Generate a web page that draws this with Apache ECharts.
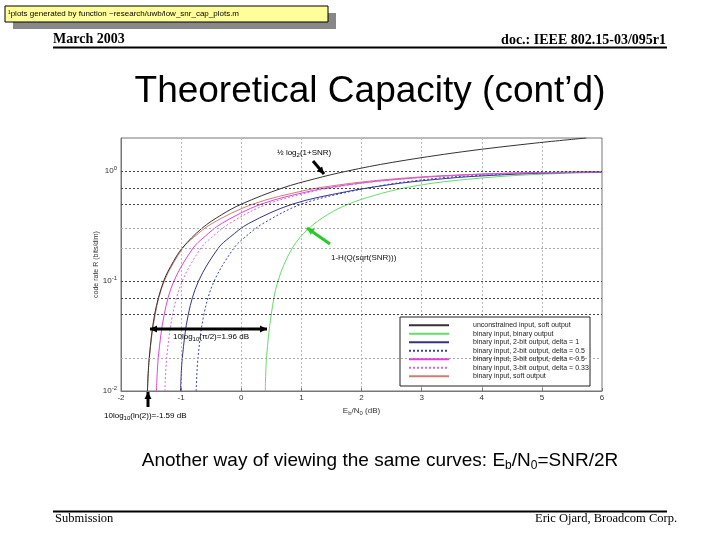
<!DOCTYPE html>
<html>
<head>
<meta charset="utf-8">
<script src="https://cdn.jsdelivr.net/npm/echarts@6/dist/echarts.min.js"></script>
<style>
html, body { margin: 0; padding: 0; background: #fff; }
#chart { width: 720px; height: 540px; }
</style>
</head>
<body>
<div id="chart"></div>
<script>
// Eb/N0 (dB) and code rate R
var unconstrainedEb = [-1.56, -1.53, -1.44, -1.29, -1.13, -0.98, -0.66, -0.33, 0, 0.68, 1.22, 1.76, 2.51, 3.68, 4.9, 5.74];
var unconstrainedR  = [0.01, 0.02, 0.05, 0.1, 0.15, 0.2, 0.3, 0.4, 0.5, 0.7, 0.85, 1, 1.2, 1.5, 1.8, 2];

var binaryHardEb = [0.4, 0.42, 0.5, 0.61, 0.85, 1.12, 1.43, 1.78, 2.21, 2.7, 3.37, 4.4, 5.27, 5.88, 6];
var binaryHardR  = [0.01, 0.02, 0.05, 0.1, 0.2, 0.3, 0.4, 0.5, 0.6, 0.7, 0.8, 0.9, 0.95, 0.97, 0.972];

var twoBitD1Eb = [-1.01, -0.98, -0.88, -0.71, -0.38, -0.19, 0.12, 0.85, 1.75, 2.45, 2.85, 3.6, 3.95, 4.8, 5.5, 6];
var twoBitD1R  = [0.01, 0.02, 0.05, 0.1, 0.2, 0.25, 0.333, 0.5, 0.65, 0.75, 0.8, 0.875, 0.9, 0.95, 0.97, 0.978];

var twoBitD05Eb = [-0.75, -0.72, -0.62, -0.45, -0.12, 0.06, 0.36, 1.0, 1.8, 2.4, 2.75, 3.4, 3.75, 4.6, 5.4, 6];
var twoBitD05R  = [0.01, 0.02, 0.05, 0.1, 0.2, 0.25, 0.333, 0.5, 0.65, 0.75, 0.8, 0.875, 0.9, 0.95, 0.97, 0.978];

var threeBitD05Eb = [-1.41, -1.38, -1.28, -1.12, -0.8, -0.62, -0.33, 0.33, 1.2, 1.76, 2.17, 2.5, 2.98, 3.33, 4.3, 5.1, 6];
var threeBitD05R  = [0.01, 0.02, 0.05, 0.1, 0.2, 0.25, 0.333, 0.5, 0.667, 0.75, 0.8, 0.833, 0.875, 0.9, 0.95, 0.97, 0.983];

var threeBitD033Eb = [-1.27, -1.24, -1.14, -0.98, -0.67, -0.49, -0.2, 0.43, 1.27, 1.82, 2.22, 2.54, 3.0, 3.35, 4.3, 5.1, 6];
var threeBitD033R  = [0.01, 0.02, 0.05, 0.1, 0.2, 0.25, 0.333, 0.5, 0.667, 0.75, 0.8, 0.833, 0.875, 0.9, 0.95, 0.97, 0.983];

var binarySoftEb = [-1.56, -1.53, -1.43, -1.28, -0.97, -0.79, -0.49, 0.19, 1.06, 1.63, 2.04, 2.36, 2.85, 3.2, 4.2, 5.0, 6];
var binarySoftR  = [0.01, 0.02, 0.05, 0.1, 0.2, 0.25, 0.333, 0.5, 0.667, 0.75, 0.8, 0.833, 0.875, 0.9, 0.95, 0.97, 0.985];

var legendNames = [
    'unconstrained input, soft output',
    'binary input, binary output',
    'binary input, 2-bit output, delta = 1',
    'binary input, 2-bit output, delta = 0.5',
    'binary input, 3-bit output, delta = 0.5',
    'binary input, 3-bit output, delta = 0.33',
    'binary input, soft output'
];

// grid lines of the log axis
var darkGridR = [0.05, 0.07, 0.1, 0.5, 0.7, 1];
var lightGridR = [0.02, 0.2, 0.3];

function zip(xs, ys) {
    var out = [];
    for (var i = 0; i < xs.length; i++) out.push([xs[i], ys[i]]);
    return out;
}

function curve(name, xs, ys, color, type, z) {
    return {
        name: name,
        type: 'line',
        data: zip(xs, ys),
        showSymbol: false,
        symbol: 'none',
        smooth: 0.35,
        z: z,
        lineStyle: { color: color, width: 1, type: type },
        itemStyle: { color: color }
    };
}

var font = 'Liberation Sans, Arial, sans-serif';
var serif = 'Liberation Serif, Times New Roman, serif';
var small = { fontSize: 8, fontFamily: font, color: '#111' };
var sub = { fontSize: 6, fontFamily: font, color: '#111', padding: [5, 0, 0, 0] };

function arrow(x1, y1, x2, y2, color, w, both) {
    var els = [{
        type: 'line',
        shape: { x1: x1, y1: y1, x2: x2, y2: y2 },
        style: { stroke: color, lineWidth: w }
    }];
    function head(ax, ay, bx, by) {
        var a = Math.atan2(ay - by, ax - bx), L = 7, H = 3.5;
        var cx = ax - L * Math.cos(a), cy = ay - L * Math.sin(a);
        return {
            type: 'polygon',
            shape: { points: [[ax, ay],
                [cx + H * Math.sin(a), cy - H * Math.cos(a)],
                [cx - H * Math.sin(a), cy + H * Math.cos(a)]] },
            style: { fill: color }
        };
    }
    els.push(head(x2, y2, x1, y1));
    if (both) els.push(head(x1, y1, x2, y2));
    return els;
}

var graphics = [
    // note box at the top
    { type: 'rect', shape: { x: 13, y: 13, width: 323, height: 16 }, style: { fill: '#888' } },
    { type: 'rect', shape: { x: 5, y: 6, width: 323, height: 16 }, style: { fill: '#ffff99', stroke: '#000', lineWidth: 1 } },
    { type: 'text', x: 8, y: 14, style: { text: '¹plots generated by function ~research/uwb/low_snr_cap_plots.m', fontSize: 8, fontFamily: font, fill: '#000', verticalAlign: 'middle' } },
    // header
    { type: 'text', x: 53, y: 39, style: { text: 'March 2003', fontSize: 14, fontWeight: 'bold', fontFamily: serif, fill: '#000', verticalAlign: 'middle' } },
    { type: 'text', x: 666, y: 40, style: { text: 'doc.: IEEE 802.15-03/095r1', fontSize: 14, fontWeight: 'bold', fontFamily: serif, fill: '#000', align: 'right', verticalAlign: 'middle' } },
    { type: 'rect', shape: { x: 53, y: 46.5, width: 614, height: 2 }, style: { fill: '#000' } },
    { type: 'text', x: 370, y: 92, style: { text: 'Theoretical Capacity (cont’d)', fontSize: 37, fontFamily: font, fill: '#000', align: 'center', verticalAlign: 'middle' } },
    // legend box
    { type: 'rect', shape: { x: 400, y: 317, width: 190, height: 69 }, style: { fill: '#fff', stroke: '#222', lineWidth: 1 }, z: 5 },
    // annotations
    { type: 'text', x: 277, y: 153, z: 10, style: { text: '{a|½ log}{s|2}{a|(1+SNR)}', rich: { a: small, s: sub }, verticalAlign: 'middle' } },
    { type: 'text', x: 331, y: 258, z: 10, style: { text: '1-H(Q(sqrt(SNR)))', fontSize: 8, fontFamily: font, fill: '#111', verticalAlign: 'middle' } },
    { type: 'text', x: 173, y: 337, z: 10, style: { text: '{a|10log}{s|10}{a|(π/2)=1.96 dB}', rich: { a: small, s: sub }, verticalAlign: 'middle' } },
    { type: 'text', x: 104, y: 416, z: 10, style: { text: '{a|10log}{s|10}{a|(ln(2))=-1.59 dB}', rich: { a: small, s: sub }, verticalAlign: 'middle' } },
    // bottom text
    { type: 'text', x: 380, y: 461, style: { text: '{a|Another way of viewing the same curves: E}{s|b}{a|/N}{s|0}{a|=SNR/2R}',
        rich: { a: { fontSize: 19, fontFamily: font, color: '#000' }, s: { fontSize: 12, fontFamily: font, color: '#000', padding: [9, 0, 0, 0] } },
        align: 'center', verticalAlign: 'middle' } },
    { type: 'rect', shape: { x: 53, y: 510.5, width: 614, height: 2 }, style: { fill: '#000' } },
    { type: 'text', x: 55, y: 519, style: { text: 'Submission', fontSize: 12.5, fontFamily: serif, fill: '#000', verticalAlign: 'middle' } },
    { type: 'text', x: 677, y: 519, style: { text: 'Eric Ojard, Broadcom Corp.', fontSize: 12.5, fontFamily: serif, fill: '#000', align: 'right', verticalAlign: 'middle' } }
];
graphics = graphics
    .concat(arrow(313, 161, 324, 174, '#000', 3, false))
    .concat(arrow(330, 244, 307, 228, '#22cc22', 3, false))
    .concat(arrow(150, 329, 267, 329, '#000', 3, true))
    .concat(arrow(148, 407, 148, 392, '#000', 3, false));
graphics.forEach(function (g) { if (g.z === undefined) g.z = 10; });

var gridSeries = {
    name: 'grid',
    type: 'line',
    data: [],
    z: 1,
    silent: true,
    markLine: {
        silent: true,
        symbol: ['none', 'none'],
        label: { show: false },
        animation: false,
        data: darkGridR.map(function (v) { return { yAxis: v, lineStyle: { color: '#444', type: [2, 2], width: 1 } }; })
            .concat(lightGridR.map(function (v) { return { yAxis: v, lineStyle: { color: '#aaa', type: [2, 2], width: 1 } }; }))
    }
};

var chart = echarts.init(document.getElementById('chart'), null, { renderer: 'canvas' });
chart.setOption({
    animation: false,
    backgroundColor: '#fff',
    grid: { left: 121, right: 118, top: 138, bottom: 149, show: true, borderColor: '#777', borderWidth: 1, backgroundColor: '#fff' },
    xAxis: {
        type: 'value', min: -2, max: 6, interval: 1,
        name: '{n|E}{s|b}{n|/N}{s|0}{n| (dB)}',
        nameLocation: 'middle', nameGap: 14,
        nameTextStyle: { rich: { n: { fontSize: 8, fontFamily: font, color: '#333' }, s: { fontSize: 6, fontFamily: font, color: '#333', padding: [5, 0, 0, 0] } } },
        axisLine: { show: true, onZero: false, lineStyle: { color: '#777' } },
        axisTick: { show: true, inside: true, length: 3, lineStyle: { color: '#777' } },
        axisLabel: { fontSize: 8, fontFamily: font, color: '#333', margin: 3 },
        splitLine: { show: true, lineStyle: { color: '#bbb', type: [2, 2] } }
    },
    yAxis: {
        type: 'log', logBase: 10, min: 0.01, max: 2,
        name: 'code rate R (bits/dim)',
        nameLocation: 'middle', nameGap: 21,
        nameMoveOverlap: false,
        nameTextStyle: { fontSize: 7, fontFamily: font, color: '#333' },
        axisLine: { show: true, onZero: false, lineStyle: { color: '#777' } },
        axisTick: { show: false },
        splitLine: { show: false },
        axisLabel: {
            fontSize: 8, fontFamily: font, color: '#333', margin: 4,
            formatter: function (v) {
                var e = Math.round(Math.log10(v));
                if (Math.abs(Math.log10(v) - e) > 1e-6) return '';
                return '{b|10}{e|' + e + '}';
            },
            rich: { b: { fontSize: 8, fontFamily: font, color: '#333' }, e: { fontSize: 6, fontFamily: font, color: '#333', padding: [0, 0, 5, 0] } }
        }
    },
    legend: {
        data: legendNames,
        orient: 'vertical',
        left: 408, top: 321,
        itemWidth: 40, itemHeight: 8.5, itemGap: 0,
        padding: 0,
        z: 6,
        itemStyle: { opacity: 0, borderWidth: 0 },
        lineStyle: { width: 2 },
        textStyle: { fontSize: 7, fontFamily: font, color: '#222', lineHeight: 8.5, padding: [0, 0, 0, 19] }
    },
    series: [
        gridSeries,
        curve(legendNames[6], binarySoftEb, binarySoftR, '#d07c74', 'solid', 2),
        curve(legendNames[0], unconstrainedEb, unconstrainedR, '#333333', 'solid', 3),
        curve(legendNames[1], binaryHardEb, binaryHardR, '#66dd66', 'solid', 2),
        curve(legendNames[2], twoBitD1Eb, twoBitD1R, '#33338f', 'solid', 2),
        curve(legendNames[3], twoBitD05Eb, twoBitD05R, '#3344aa', [2, 2], 2),
        curve(legendNames[4], threeBitD05Eb, threeBitD05R, '#dd44dd', 'solid', 2),
        curve(legendNames[5], threeBitD033Eb, threeBitD033R, '#dd66dd', [2, 2], 2)
    ],
    graphic: graphics
});
</script>
</body>
</html>
